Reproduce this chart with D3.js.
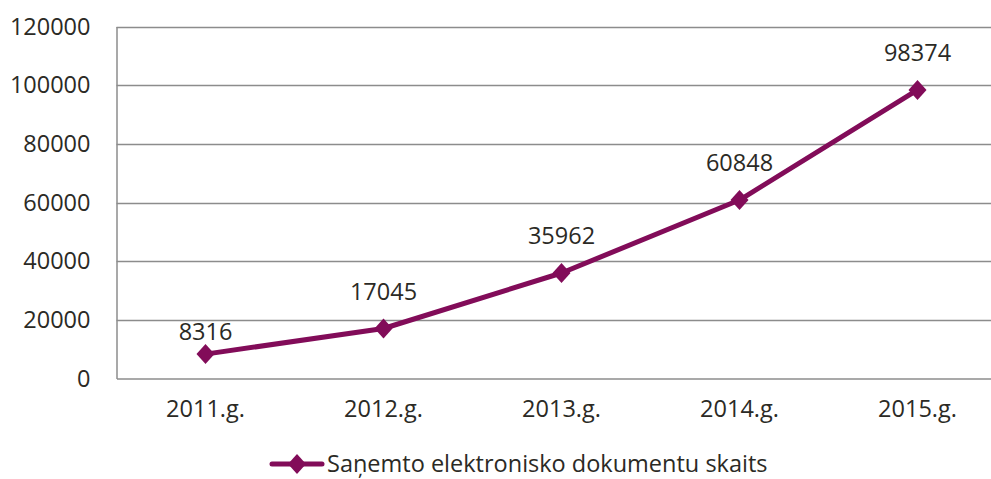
<!DOCTYPE html>
<html><head><meta charset="utf-8">
<script src="https://cdn.jsdelivr.net/npm/d3@7"></script>
<style>
html,body{margin:0;padding:0;background:#fff;overflow:hidden;}
text{font-family:"Open Sans",sans-serif;fill:#2b2a25;}
</style></head>
<body>
<svg id="c" width="991" height="479"></svg>
<script>
const categories = ["2011.g.", "2012.g.", "2013.g.", "2014.g.", "2015.g."];
const values = [8316, 17045, 35962, 60848, 98374];
const yTicks = [0, 20000, 40000, 60000, 80000, 100000, 120000];
const seriesName = "Saņemto elektronisko dokumentu skaits";

const color = "#820c59";
const fs = 23.5;
const svg = d3.select("#c");
const mLeft = 116.5, mRight = 1006.5, mTop = 26.5, mBottom = 378.5;

const x = d3.scaleBand().domain(categories).range([mLeft, mRight]);
const y = d3.scaleLinear().domain([0, 120000]).range([mBottom, mTop]);

// gridlines
svg.append("g").selectAll("line").data(yTicks.filter(d => d > 0)).join("line")
  .attr("x1", mLeft).attr("x2", mRight)
  .attr("y1", d => Math.round(y(d)) + 0.5).attr("y2", d => Math.round(y(d)) + 0.5)
  .attr("stroke", "#8c8c8c").attr("stroke-width", 1.5);

// axes
const yAxis = d3.axisLeft(y).tickValues(yTicks).tickSize(0).tickPadding(26).tickFormat(d3.format("d"));
const gy = svg.append("g").attr("transform", `translate(${mLeft},0)`).call(yAxis);
gy.select(".domain").attr("stroke", "#8c8c8c").attr("stroke-width", 1.5);
gy.selectAll("text").attr("font-size", fs).attr("font-family", "Open Sans").attr("fill", "#2b2a25");

const xAxis = d3.axisBottom(x).tickSize(0).tickPadding(22);
const gx = svg.append("g").attr("transform", `translate(0,${mBottom})`).call(xAxis);
gx.select(".domain").attr("stroke", "#8c8c8c").attr("stroke-width", 1.5);
gx.selectAll("text").attr("font-size", fs).attr("font-family", "Open Sans").attr("fill", "#2b2a25");

const cx = d => x(d) + x.bandwidth() / 2;
const data = categories.map((c, i) => ({c, v: values[i]}));

svg.append("path").datum(data)
  .attr("d", d3.line().x(d => cx(d.c)).y(d => y(d.v)))
  .attr("fill", "none").attr("stroke", color).attr("stroke-width", 5)
  .attr("stroke-linejoin", "round").attr("stroke-linecap", "round");

const diamond = "M0,-10L9,0L0,10L-9,0Z";
svg.append("g").selectAll("path").data(data).join("path")
  .attr("d", diamond)
  .attr("transform", d => `translate(${cx(d.c)},${y(d.v)})`)
  .attr("fill", color);

svg.append("g").selectAll("text").data(data).join("text")
  .attr("x", d => cx(d.c))
  .attr("y", (d, i) => y(d.v) - (i === 0 ? 22 : 37))
  .attr("dy", "0.35em")
  .attr("text-anchor", "middle").attr("font-size", fs)
  .text(d => d.v);

// legend
const lg = svg.append("g").attr("transform", "translate(0,464)");
lg.append("line").attr("x1", 272).attr("x2", 322).attr("y1", 0).attr("y2", 0)
  .attr("stroke", color).attr("stroke-width", 5).attr("stroke-linecap", "round");
lg.append("path").attr("d", diamond).attr("transform", "translate(297,0)").attr("fill", color);
lg.append("text").attr("x", 327).attr("y", 0).attr("dy", "0.35em").attr("font-size", fs).text(seriesName);
</script>
</body></html>
